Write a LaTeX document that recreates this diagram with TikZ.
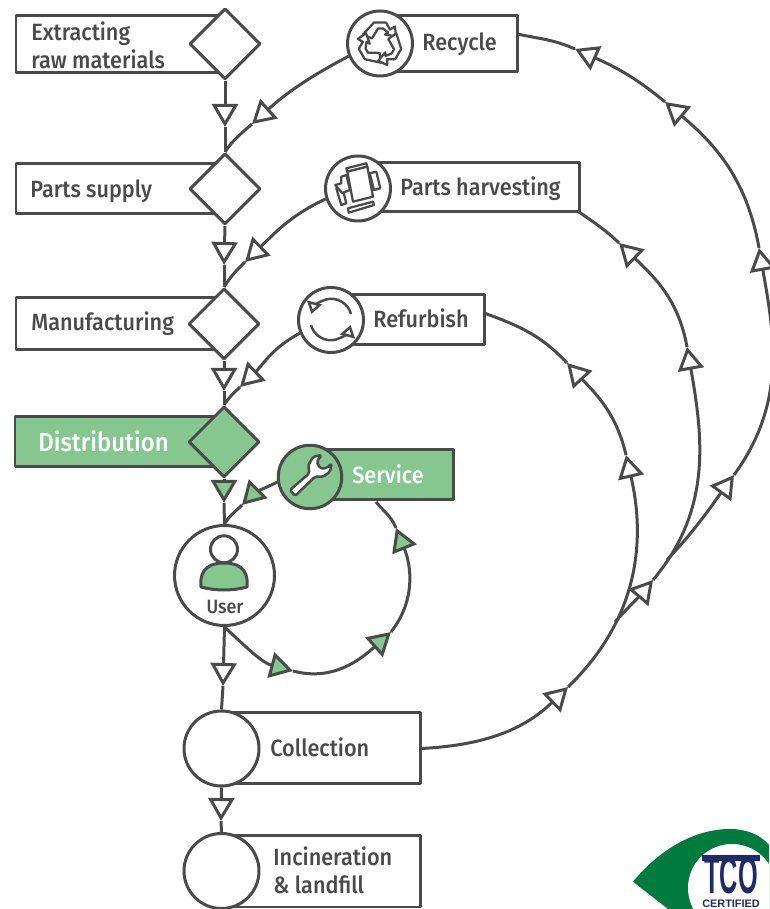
\documentclass[tikz,border=0pt]{standalone}
\usepackage{fontspec}
\setmainfont{Fira Sans}[UprightFont=* Medium,FakeStretch=0.92]
\newfontfamily\logofont{Liberation Sans}
\usetikzlibrary{arrows.meta,
	fit,
	shapes.geometric}
\definecolor{ink}{HTML}{4A4A4A}
\definecolor{leaf}{HTML}{85C78F}
\definecolor{logogreen}{HTML}{007A3D}
\definecolor{logonavy}{HTML}{1F2A6B}

\begin{document}
\begin{tikzpicture}[x=0.02cm,y=0.02cm,line join=round]
    \tikzstyle{link}=[draw=ink,line width=0.06cm]
    \tikzstyle{flow}=[link,-{Triangle[length=0.46cm,width=0.52cm,fill=white]}]
    \tikzstyle{greenflow}=[link,-{Triangle[length=0.46cm,width=0.52cm,fill=leaf]}]
    \tikzstyle{box}=[rectangle,draw=ink,line width=0.06cm,fill=white,inner sep=0pt]
    \tikzstyle{greenbox}=[box,fill=leaf]
    \tikzstyle{gate}=[diamond,draw=ink,line width=0.06cm,fill=white,minimum size=1.42cm,inner sep=0pt]
    \tikzstyle{stage}=[circle,draw=ink,line width=0.06cm,fill=white,inner sep=0pt]
    \tikzstyle{label}=[anchor=west,align=left,text=ink,inner sep=0pt,font=\fontsize{13.4}{16}\selectfont]
    \tikzstyle{icon}=[draw=ink,line width=0.045cm,fill=white]
    \useasboundingbox (0,0) rectangle (769,909);

    \node[box,fit={(16,836)(225,893)}] (box_1) {};
    \node[box,fit={(16,695)(225,745)}] (box_2) {};
    \node[box,fit={(16,559)(224,611)}] (box_3) {};
    \node[greenbox,fit={(15,442)(224,492)}] (box_4) {};
    \node[gate] (gate_1) at (225,865) {};
    \node[gate] (gate_2) at (225,720) {};
    \node[gate] (gate_3) at (224,585) {};
    \node[gate,fill=leaf] (gate_4) at (224,467) {};

    \node[box,fit={(380,837)(517,893)}] (box_recycle) {};
    \node[box,fit={(358,697)(579,746)}] (box_harvest) {};
    \node[box,fit={(331,564)(484,614)}] (box_refurbish) {};
    \node[greenbox,fit={(310,409)(453,459)}] (box_service) {};
    \node[stage,minimum size=1.3cm] (recycle) at (380,865.5) {};
    \node[stage,minimum size=1.3cm] (harvest) at (358,720.5) {};
    \node[stage,minimum size=1.3cm] (refurbish) at (331,589) {};
    \node[stage,fill=leaf,minimum size=1.27cm] (service) at (310,432) {};

    \node[stage,minimum size=2cm] (user) at (224.5,333.5) {};
    \node[box,fit={(221,125)(420,196)}] (box_collect) {};
    \node[box,fit={(221,2)(420,73)}] (box_landfill) {};
    \node[stage,minimum size=1.5cm] (collect) at (221.5,160.5) {};
    \node[stage,minimum size=1.5cm] (landfill) at (221.5,38) {};

    \node[label] (text_1) at (31,863.5) {Extracting\\raw materials};
    \node[label] (text_2) at (30,717.5) {Parts supply};
    \node[label] (text_3) at (31,585) {Manufacturing};
    \node[label,text=white,font=\fontsize{14.8}{18}\selectfont] (text_4) at (38,468) {Distribution};
    \node[label] (text_recycle) at (422,865) {Recycle};
    \node[label] (text_harvest) at (400,720) {Parts harvesting};
    \node[label] (text_refurbish) at (373,591) {Refurbish};
    \node[label,text=white] (text_service) at (352,434.5) {Service};
    \node[label] (text_collect) at (270,162) {Collection};
    \node[label] (text_landfill) at (273,38.5) {Incineration\\\& landfill};
    \node[label,anchor=center,font=\fontsize{11}{13}\selectfont] (text_user) at (225,302) {User};

    \coordinate (tip_1) at (225,782);
    \coordinate (tip_2) at (224,644);
    \coordinate (tip_3) at (224,518);
    \coordinate (tip_4) at (224,406);
    \coordinate (tip_5) at (223,223);
    \coordinate (tip_6) at (221,88);
    \draw[flow] (gate_1.south) -- (tip_1);
    \draw[link] (tip_1) -- (gate_2.north);
    \draw[flow] (gate_2.south) -- (tip_2);
    \draw[link] (tip_2) -- (gate_3.north);
    \draw[flow] (gate_3.south) -- (tip_3);
    \draw[link] (tip_3) -- (gate_4.north);
    \draw[greenflow] (gate_4.south) -- (tip_4);
    \draw[link] (tip_4) -- (user.north);
    \draw[flow] (user.south) -- (tip_5);
    \draw[link] (tip_5) -- (collect.north);
    \draw[flow] (collect.south) -- (tip_6);
    \draw[link] (tip_6) -- (landfill.north);

    \coordinate (back_1) at (252,785);
    \coordinate (back_2) at (245,647);
    \coordinate (back_3) at (240,522);
    \coordinate (back_4) at (242,404);
    \draw[flow] (recycle.202) to[out=208,in=42] (back_1);
    \draw[link] (back_1) to[out=222,in=57] (gate_2.north);
    \draw[flow] (harvest.198) to[out=205,in=44] (back_2);
    \draw[link] (back_2) to[out=224,in=57] (gate_3.north);
    \draw[flow] (refurbish.203) to[out=208,in=44] (back_3);
    \draw[link] (back_3) to[out=224,in=57] (gate_4.north);
    \draw[greenflow] (service.189) to[out=205,in=45] (back_4);
    \draw[link] (back_4) to[out=225,in=60] (user.north);

    \coordinate (loop_1) at (293,238);
    \coordinate (loop_2) at (391,277);
    \coordinate (loop_3) at (396,381);
    \coordinate (loop_4) at (376,407);
    \draw[greenflow] (user.south) to[out=-43,in=165] (loop_1);
    \draw[greenflow] (loop_1) to[out=-15,in=222] (loop_2);
    \draw[greenflow] (loop_2) to[out=52,in=292] (loop_3);
    \draw[link] (loop_3) to[out=112,in=310] (loop_4);

    \coordinate (arc_1) at (568,222);
    \coordinate (split_1) at (615,287);
    \coordinate (split_2) at (667,349);
    \coordinate (arc_2) at (653,329);
    \coordinate (arc_3) at (734,434);
    \coordinate (arc_4) at (626,454);
    \coordinate (arc_5) at (567,546);
    \coordinate (arc_6) at (687,562);
    \coordinate (arc_7) at (619,666);
    \coordinate (arc_8) at (759,661);
    \coordinate (arc_9) at (665,807);
    \coordinate (arc_10) at (575,860);
    \coordinate (end_1) at (484,596);
    \coordinate (end_2) at (579,697);
    \coordinate (end_3) at (517,875);
    \draw[flow] (box_collect.east) to[out=3,in=224] (arc_1);
    \draw[flow] (arc_1) to[out=44,in=283] (arc_4);
    \draw[flow] (arc_4) to[out=103,in=313] (arc_5);
    \draw[link] (arc_5) to[out=133,in=340] (end_1);
    \draw[flow] (split_1) to[out=48,in=230] (arc_2);
    \draw[flow] (arc_2) to[out=50,in=280] (arc_6);
    \draw[flow] (arc_6) to[out=100,in=316] (arc_7);
    \draw[link] (arc_7) to[out=136,in=325] (end_2);
    \draw[flow] (split_2) to[out=47,in=234] (arc_3);
    \draw[flow] (arc_3) to[out=54,in=280] (arc_8);
    \draw[flow] (arc_8) to[out=100,in=320] (arc_9);
    \draw[flow] (arc_9) to[out=140,in=336] (arc_10);
    \draw[link] (arc_10) to[out=156,in=348] (end_3);

    \foreach \turn in {0,120,240}
      \draw[icon,shift={(380,865.5)},rotate=\turn] (-17,9) -- (-6,21) -- (6,21) -- (10,14) -- (15,17) -- (16,7) -- (5,9) -- (8,11) -- (3,15) -- (-2,15) -- (-8,5) -- cycle;

    \draw[icon] (336.3,720.7) -- (342,722.3) -- (346.3,705.7) -- (341.3,704) -- cycle;
    \draw[icon] (335.3,724) -- (341.3,725.7) -- (341.3,732.3) -- (346.3,734) -- (350,719) -- (342,716) -- cycle;
    \draw[icon] (369.7,735.7) -- (376.3,737.3) -- (380.3,720.7) -- (374,719) -- cycle;
    \draw[icon] (346.3,740.7) -- (366.3,745.7) -- (367.3,742.3) -- (347.3,737.3) -- cycle;
    \draw[icon] (347.3,737.3) -- (367.3,742.3) -- (373,712.3) -- (353,707.3) -- cycle;
    \draw[icon] (348,700.7) -- (373,707.3) -- (374,704) -- (348.7,696.3) -- cycle;

    \draw[link,line width=0.05cm,-{Triangle[length=0.24cm,width=0.3cm,fill=white]}] (351,595) arc[start angle=15,end angle=165,radius=20.5];
    \draw[link,line width=0.05cm,-{Triangle[length=0.24cm,width=0.3cm,fill=white]}] (311,584) arc[start angle=195,end angle=345,radius=20.5];

    \draw[link,fill=white,line width=0.05cm,rounded corners=1pt] (290,419) -- (309.3,435.7) -- (308.3,444) -- (313.3,452.3) -- (321.7,454) -- (316.7,447.3) -- (320,440.7) -- (326.7,440.7) -- (331.7,445.7) -- (330,437.3) -- (323.3,432.3) -- (315,432.3) -- (295,413) -- cycle;

    \draw[link] (224,359.7) circle[radius=13.5];
    \draw[link,fill=leaf] (201,322) .. controls (199,342) and (212,346) .. (224,346) .. controls (236,346) and (249,342) .. (247,322) .. controls (232,318) and (216,318) .. cycle;

    \begin{scope}
      \clip (0,0) rectangle (769,909);
      \fill[logogreen] (633,27.3) .. controls (660,60) and (695,80) .. (730,80) .. controls (745,80) and (760,75) .. (769,64) -- (769,0) -- (668,0) -- cycle;
      \fill[white] (732,21) circle[radius=44];
      \fill[logonavy] (701.5,54) -- (760,54) -- (760,48) -- (701.5,48) -- cycle;
      \node[text=logonavy,inner sep=0pt,xscale=0.48,font=\logofont\bfseries\fontsize{30}{30}\selectfont] (logo_tco) at (731,33.5) {TCO};
      \node[text=logonavy,inner sep=0pt,font=\logofont\bfseries\fontsize{6.2}{6.2}\selectfont] (logo_cert) at (731,5) {CERTIFIED};
    \end{scope}
\end{tikzpicture}
\end{document}
